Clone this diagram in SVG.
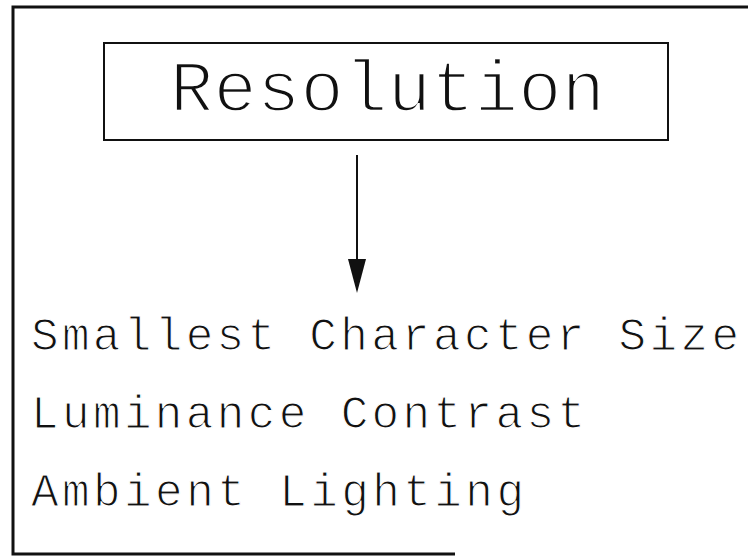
<svg xmlns="http://www.w3.org/2000/svg" width="748" height="556" viewBox="0 0 748 556">
<style>
.t{font-family:"Liberation Mono","DejaVu Sans Mono",monospace;fill:#111;stroke:#fff;}
.big{font-size:72px;stroke-width:2.4;}
.item{font-size:46px;stroke-width:1.2;}
.frame{fill:none;stroke:#111;stroke-width:3;}
</style>
<rect width="748" height="556" fill="#fff"/>
<g id="frame">
<path class="frame" d="M760,7 L13,7 L13,554 L455,554"/>
</g>
<g id="resolution">
<rect x="104" y="43" width="564" height="97" fill="none" stroke="#111" stroke-width="2"/>
<text class="t big" x="170" y="111" textLength="435" lengthAdjust="spacing">Resolution</text>
</g>
<g id="connectors">
<line x1="357" y1="155" x2="357" y2="262" stroke="#111" stroke-width="2"/>
<path d="M348,259 L366,259 L357,293 Z" fill="#111"/>
</g>
<g id="items">
<text class="t item" x="31" y="350" textLength="708" lengthAdjust="spacing">Smallest Character Size</text>
<text class="t item" x="31" y="428" textLength="554" lengthAdjust="spacing">Luminance Contrast</text>
<text class="t item" x="31" y="506" textLength="493" lengthAdjust="spacing">Ambient Lighting</text>
</g>
</svg>
